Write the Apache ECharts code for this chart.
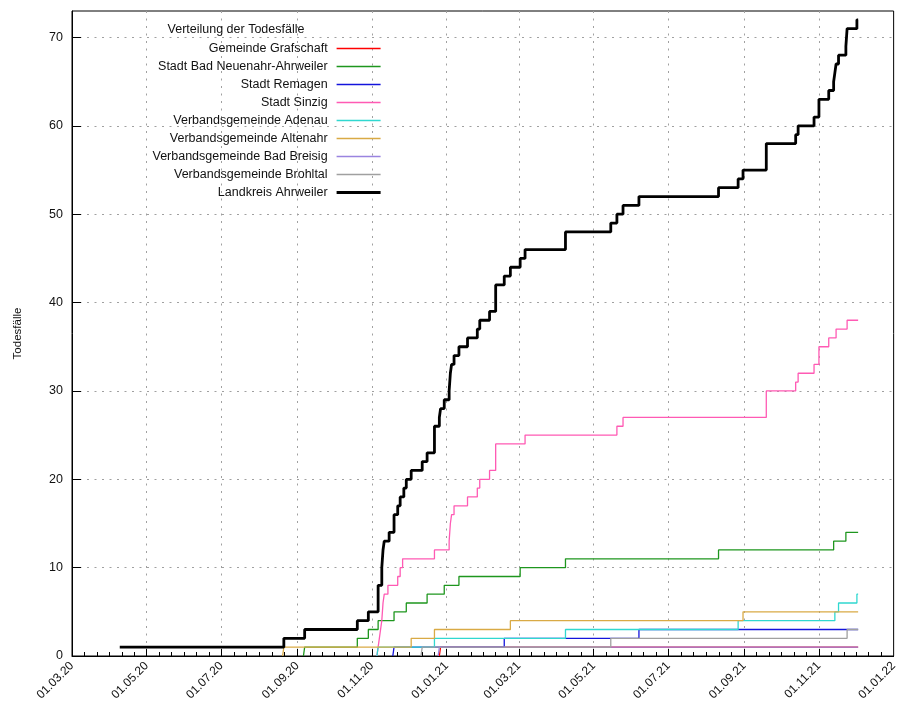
<!DOCTYPE html>
<html>
<head>
<meta charset="utf-8">
<title>Verteilung der Todesfälle – Landkreis Ahrweiler</title>
<script src="https://cdn.jsdelivr.net/npm/echarts@6/dist/echarts.min.js"></script>
<style>
  html, body { margin: 0; padding: 0; background: #ffffff; }
  #chart { width: 900px; height: 707px; }
</style>
</head>
<body>
<div id="chart"></div>
<script>
const FONT = '"Liberation Sans", Arial, Helvetica, sans-serif';

// Legend / series names in plotting order
const seriesNames = [
  'Gemeinde Grafschaft',
  'Stadt Bad Neuenahr-Ahrweiler',
  'Stadt Remagen',
  'Stadt Sinzig',
  'Verbandsgemeinde Adenau',
  'Verbandsgemeinde Altenahr',
  'Verbandsgemeinde Bad Breisig',
  'Verbandsgemeinde Brohltal',
  'Landkreis Ahrweiler'
];

const seriesColors = [
  '#ff0000', '#1e961e', '#1414dc', '#ff5ab4',
  '#30d8d0', '#d9aa45', '#9a84e0', '#a0a0a0', '#000000'
];

// Cumulative deaths: [date from which the count holds, count]
const grafschaft = [
  ['2020-12-26', 0], ['2020-12-27', 1], ['2021-12-03', 1]
];

const badNeuenahr = [
  ['2020-09-06', 0], ['2020-09-07', 1], ['2020-10-20', 2], ['2020-10-29', 3],
  ['2020-11-06', 4], ['2020-11-19', 5], ['2020-11-29', 6], ['2020-12-16', 7],
  ['2020-12-30', 8], ['2021-01-11', 9], ['2021-03-02', 10], ['2021-04-08', 11],
  ['2021-08-11', 12], ['2021-11-13', 13], ['2021-11-23', 14], ['2021-12-03', 14]
];

const remagen = [
  ['2020-11-18', 0], ['2020-11-19', 1], ['2021-02-17', 2], ['2021-06-07', 3],
  ['2021-12-03', 3]
];

const sinzig = [
  ['2020-11-05', 0], ['2020-11-06', 1], ['2020-11-07', 2], ['2020-11-08', 3],
  ['2020-11-09', 4], ['2020-11-10', 6], ['2020-11-11', 7], ['2020-11-14', 8],
  ['2020-11-22', 9], ['2020-11-24', 10], ['2020-11-26', 11], ['2020-12-22', 12],
  ['2021-01-03', 13], ['2021-01-04', 15], ['2021-01-05', 16], ['2021-01-07', 17],
  ['2021-01-18', 18], ['2021-01-26', 19], ['2021-01-28', 20], ['2021-02-05', 21],
  ['2021-02-10', 24], ['2021-03-06', 25], ['2021-05-20', 26], ['2021-05-25', 27],
  ['2021-09-19', 30], ['2021-10-13', 31], ['2021-10-15', 32], ['2021-10-28', 33],
  ['2021-11-01', 35], ['2021-11-09', 36], ['2021-11-15', 37], ['2021-11-24', 38],
  ['2021-12-03', 38]
];

const adenau = [
  ['2020-11-05', 0], ['2020-11-06', 1], ['2020-12-22', 2], ['2021-04-08', 3],
  ['2021-08-27', 4], ['2021-11-14', 5], ['2021-11-17', 6], ['2021-12-02', 7],
  ['2021-12-03', 7]
];

const altenahr = [
  ['2020-08-20', 0], ['2020-08-21', 1], ['2020-12-03', 2], ['2020-12-22', 3],
  ['2021-02-22', 4], ['2021-08-31', 5], ['2021-12-03', 5]
];

const badBreisig = [
  ['2020-12-25', 0], ['2020-12-26', 1], ['2021-12-03', 1]
];

const brohltal = [
  ['2020-12-11', 0], ['2020-12-12', 1], ['2021-05-15', 2], ['2021-11-24', 3],
  ['2021-12-03', 3]
];

const landkreis = [
  ['2020-04-09', 1], ['2020-08-21', 2], ['2020-09-07', 3], ['2020-10-20', 4],
  ['2020-10-29', 5], ['2020-11-06', 8], ['2020-11-09', 10], ['2020-11-10', 12],
  ['2020-11-11', 13], ['2020-11-15', 14], ['2020-11-19', 16], ['2020-11-22', 17],
  ['2020-11-24', 18], ['2020-11-27', 19], ['2020-11-29', 20], ['2020-12-03', 21],
  ['2020-12-12', 22], ['2020-12-16', 23], ['2020-12-22', 26], ['2020-12-26', 27],
  ['2020-12-27', 28], ['2020-12-30', 29], ['2021-01-03', 30], ['2021-01-04', 32],
  ['2021-01-05', 33], ['2021-01-07', 34], ['2021-01-11', 35], ['2021-01-18', 36],
  ['2021-01-26', 37], ['2021-01-28', 38], ['2021-02-05', 39], ['2021-02-10', 42],
  ['2021-02-17', 43], ['2021-02-22', 44], ['2021-03-02', 45], ['2021-03-06', 46],
  ['2021-04-08', 48], ['2021-05-15', 49], ['2021-05-20', 50], ['2021-05-25', 51],
  ['2021-06-07', 52], ['2021-08-11', 53], ['2021-08-27', 54], ['2021-08-31', 55],
  ['2021-09-19', 58], ['2021-10-13', 59], ['2021-10-15', 60], ['2021-10-28', 61],
  ['2021-11-01', 63], ['2021-11-09', 64], ['2021-11-13', 65], ['2021-11-14', 66],
  ['2021-11-15', 67], ['2021-11-17', 68], ['2021-11-23', 69], ['2021-11-24', 71],
  ['2021-12-02', 72], ['2021-12-03', 72]
];

const seriesData = [
  grafschaft, badNeuenahr, remagen, sinzig, adenau,
  altenahr, badBreisig, brohltal, landkreis
];

// Axis ticks
const xTickDates = [
  '2020-03-01', '2020-05-01', '2020-07-01', '2020-09-01', '2020-11-01', '2021-01-01',
  '2021-03-01', '2021-05-01', '2021-07-01', '2021-09-01', '2021-11-01', '2022-01-01'
];
const yTickValues = [0, 10, 20, 30, 40, 50, 60, 70];
const yMax = 73;

// Dates are handled as UTC day timestamps on a numeric axis
function toTime(s) {
  const p = s.split('-').map(Number);
  return Date.UTC(p[0], p[1] - 1, p[2]);
}
function pad(n) { return (n < 10 ? '0' : '') + n; }
function fmtDate(v) {
  const d = new Date(Math.round(v));
  return pad(d.getUTCDate()) + '.' + pad(d.getUTCMonth() + 1) + '.' +
    String(d.getUTCFullYear()).slice(2);
}

const majorTimes = xTickDates.map(toTime);
const innerMajor = majorTimes.slice(1, -1);
const minorTimes = [];
for (let i = 0; i < majorTimes.length - 1; i++) {
  const a = majorTimes[i], b = majorTimes[i + 1];
  for (let k = 1; k < 6; k++) minorTimes.push(a + (b - a) * k / 6);
}
const xMin = majorTimes[0];
const xMax = majorTimes[majorTimes.length - 1];

const lineWidthOf = i => (i === seriesData.length - 1 ? 2.8 : 1.3);
const gridLine = { color: '#a0a0a0', width: 1, type: [2, 5.5] };

const chart = echarts.init(document.getElementById('chart'), null, { renderer: 'canvas' });

chart.setOption({
  animation: false,
  backgroundColor: '#ffffff',
  textStyle: { fontFamily: FONT },
  title: {
    text: 'Verteilung der Todesfälle',
    left: 236,
    top: 23,
    padding: 0,
    textAlign: 'center',
    textStyle: { fontFamily: FONT, fontSize: 12.5, fontWeight: 'normal', color: '#111' }
  },
  legend: {
    orient: 'vertical',
    align: 'right',
    right: 518,
    top: 42,
    padding: 0,
    itemWidth: 44,
    itemHeight: 14,
    itemGap: 5,
    selectedMode: false,
    // plain line samples, no point markers
    data: seriesNames.map((n, i) => ({
      name: n,
      lineStyle: { width: lineWidthOf(i), color: seriesColors[i] }
    })),
    itemStyle: { color: 'transparent', borderWidth: 0, opacity: 0 },
    textStyle: {
      fontFamily: FONT, fontSize: 12.5, color: '#111',
      padding: [0, 4, 0, 0]
    }
  },
  grid: {
    left: 72, right: 5, top: 11, bottom: 51,
    show: true, borderColor: '#000', borderWidth: 1,
    backgroundColor: 'transparent'
  },
  xAxis: [
    {
      type: 'value',
      position: 'bottom',
      min: xMin,
      max: xMax,
      axisLine: { show: true, lineStyle: { color: '#000', width: 1 } },
      axisTick: {
        show: true, inside: true, length: 7,
        customValues: innerMajor,
        lineStyle: { color: '#000', width: 1 }
      },
      axisLabel: {
        show: true,
        customValues: majorTimes,
        rotate: 45,
        margin: 8,
        fontSize: 12,
        fontFamily: FONT,
        color: '#111',
        hideOverlap: false,
        showMinLabel: true,
        showMaxLabel: true,
        formatter: fmtDate
      },
      splitLine: { show: true, lineStyle: gridLine }
    },
    {
      type: 'value',
      position: 'bottom',
      min: xMin,
      max: xMax,
      axisLine: { show: false },
      axisTick: {
        show: true, inside: true, length: 4,
        customValues: minorTimes,
        lineStyle: { color: '#000', width: 1 }
      },
      axisLabel: { show: false },
      splitLine: { show: false }
    }
  ],
  yAxis: {
    type: 'value',
    min: 0,
    max: yMax,
    interval: 10,
    name: 'Todesfälle',
    nameLocation: 'middle',
    nameRotate: 90,
    nameGap: 48,
    nameTextStyle: { fontFamily: FONT, fontSize: 11.5, color: '#111' },
    axisLine: { show: true, lineStyle: { color: '#000', width: 1 } },
    axisTick: {
      show: true, inside: true, length: 9,
      customValues: yTickValues.slice(1),
      lineStyle: { color: '#000', width: 1 }
    },
    axisLabel: {
      customValues: yTickValues,
      margin: 9,
      fontSize: 12.5,
      fontFamily: FONT,
      color: '#111'
    },
    splitLine: { show: true, lineStyle: gridLine }
  },
  series: seriesData.map((d, i) => ({
    name: seriesNames[i],
    type: 'line',
    step: 'end',
    xAxisIndex: 0,
    yAxisIndex: 0,
    data: d.map(p => [toTime(p[0]), p[1]]),
    symbol: 'none',
    showSymbol: false,
    color: seriesColors[i],
    itemStyle: { color: seriesColors[i] },
    lineStyle: { color: seriesColors[i], width: lineWidthOf(i) },
    emphasis: { disabled: true },
    silent: true
  }))
});
</script>
</body>
</html>
